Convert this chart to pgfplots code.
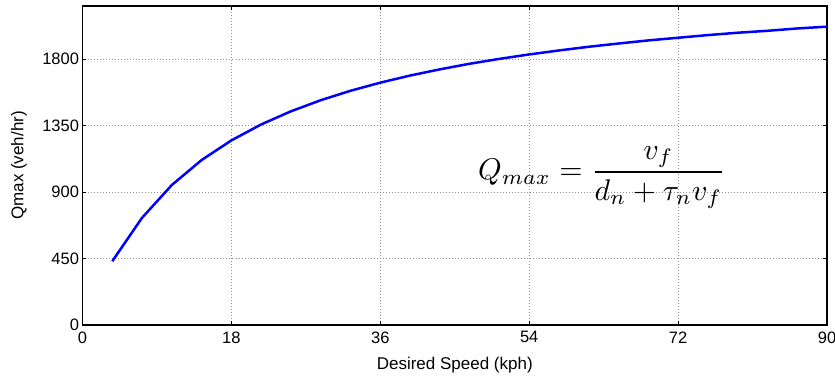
\documentclass[border=0pt]{standalone}
\usepackage{pgfplots}
\pgfplotsset{compat=1.18}
\usepackage{fontspec}
\setmainfont{Liberation Sans}

\begin{document}
\begin{tikzpicture}
\begin{axis}[
  scale only axis,
  width=744.5bp, height=319bp,
  xmin=0, xmax=90, ymin=0, ymax=2160,
  xtick={0,18,36,54,72,90},
  ytick={0,450,900,1350,1800},
  /pgf/number format/.cd, 1000 sep={}, assume math mode=true,
  /pgfplots/.cd,
  tick align=inside,
  major tick length=4bp,
  tick style={black, line width=0.8bp},
  axis line style={black, line width=1.3bp},
  grid=major,
  major grid style={gray!85, line width=0.6bp, dash pattern=on 1bp off 2bp},
  ticklabel style={font=\fontsize{16.5bp}{19bp}\selectfont},
  xticklabel style={yshift=-3bp},
  xlabel={Desired Speed (kph)},
  ylabel={Qmax (veh/hr)},
  every axis x label/.style={at={(axis description cs:0.5,0)}, anchor=center,
    yshift=-40bp, font=\fontsize{17bp}{20bp}\selectfont},
  every axis y label/.style={at={(axis description cs:0,0.5)}, anchor=center,
    rotate=90, yshift=63.5bp, font=\fontsize{17bp}{20bp}\selectfont},
  clip=false,
]
% maximum flow against desired speed
\addplot[color={rgb,255:red,0;green,0;blue,255}, line width=2.5bp] coordinates {
  (3.6,432) (7.2,726) (10.8,948) (14.4,1117) (18,1250)
  (21.6,1358) (25.2,1447) (28.8,1522) (32.4,1586) (36,1641)
  (39.6,1689) (43.2,1731) (46.8,1769) (50.4,1802) (54,1832)
  (57.6,1859) (61.2,1884) (64.8,1906) (68.4,1927) (72,1945)
  (75.6,1963) (79.2,1979) (82.8,1992) (86.4,2008) (90,2020)
};
\node[anchor=base, inner sep=0pt]
  at (axis cs:62.8,985) {\scalebox{3.0}{$\displaystyle Q_{max} = \frac{v_f}{d_n + \tau_n v_f}$}};
\end{axis}
\pgfresetboundingbox
\useasboundingbox ([shift={(-82.5bp,-52bp)}]current axis.south west)
  rectangle ([shift={(8bp,6bp)}]current axis.north east);
\end{tikzpicture}
\end{document}
